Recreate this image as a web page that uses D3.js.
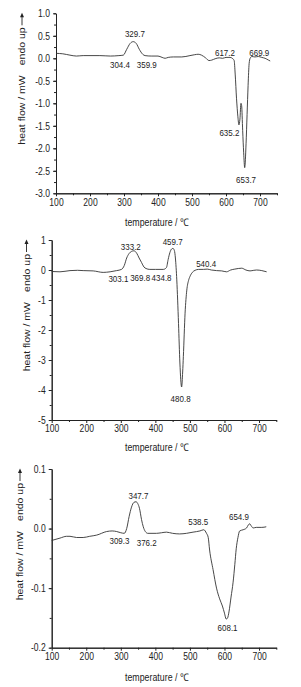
<!DOCTYPE html>
<html><head><meta charset="utf-8">
<script src="https://cdn.jsdelivr.net/npm/d3@7/dist/d3.min.js"></script>
<style>
html,body{margin:0;padding:0;background:#fff;}
svg{display:block;}
</style></head>
<body><svg id="c" width="301" height="687"></svg>
<script>
// ---------- data ----------
const xTicks = [100,200,300,400,500,600,700];
const xTickLabels = ["100","200","300","400","500","600","700"];

const p1T = [100,120,141,160,180,200,229,260,285,298,308,318,327,336,345,355,362,380,400,412,421,430,445,470,494,508,518,528,540,550,558,568,580,590,600,612,620,624,627,631,635,638,641,644,646,649,652,655,659,662,665,668,671,676,685,695,705,715,725,730];
const p1V = [0.11,0.10,0.07,0.05,0.06,0.06,0.06,0.05,0.06,0.07,0.20,0.33,0.37,0.33,0.20,0.09,0.06,0.05,0.05,0.02,0.0,0.02,0.03,0.03,0.06,0.08,0.09,0.07,0.01,-0.05,-0.04,-0.01,0.01,0.0,0.02,0.02,-0.01,-0.05,-0.35,-0.9,-1.3,-1.48,-1.35,-1.0,-1.05,-1.6,-2.1,-2.43,-1.9,-1.25,-0.6,-0.12,0.0,0.04,0.03,0.04,0.02,0.0,-0.04,-0.06];
const p1YTicks = [1.0,0.5,0.0,-0.5,-1.0,-1.5,-2.0,-2.5,-3.0];
const p1YLabels = ["1.0","0.5","0.0","-0.5","-1.0","-1.5","-2.0","-2.5","-3.0"];
const p1AnnText = ["329.7","304.4","359.9","617.2","669.9","635.2","653.7"];
const p1AnnT = [332,288,367,597,698,610,659];
const p1AnnV = [0.54,-0.14,-0.14,0.13,0.13,-1.65,-2.70];

const p2T = [100,124,153,175,191,220,249,269,288,302,310,317,324,331,338,346,353,360,367,373,384,400,423,432,437,442,447,451,455,458,462,467,471,476,479,481,486,491,496,500,507,515,525,539,550,562,577,592,606,618,630,650,662,674,685,693,708,722];
const p2V = [-0.05,-0.06,-0.02,-0.01,-0.02,-0.03,-0.08,-0.06,-0.02,0.02,0.15,0.40,0.55,0.62,0.64,0.56,0.40,0.25,0.10,0.05,0.02,0.02,0.02,0.08,0.35,0.58,0.70,0.72,0.65,0.40,-0.33,-1.78,-3.1,-3.9,-3.4,-2.89,-1.44,-0.67,-0.35,-0.22,-0.08,-0.01,0.02,0.02,0.03,0.0,-0.02,-0.03,-0.06,0.0,0.03,0.06,0.0,-0.03,-0.01,0.0,-0.02,-0.06];
const p2YTicks = [1,0,-1,-2,-3,-4,-5];
const p2YLabels = ["1","0","-1","-2","-3","-4","-5"];
const p2AnnText = ["333.2","459.7","303.1","369.8","434.8","540.4","480.8"];
const p2AnnT = [329,450,293,356,418,547,473];
const p2AnnV = [0.78,0.94,-0.28,-0.26,-0.26,0.22,-4.28];

const p3T = [100,124,143,153,172,191,210,230,259,275,288,300,310,317,324,331,338,344,349,354,360,365,371,378,403,418,432,450,470,490,509,529,540,548,553,557,567,577,586,594,600,605,609,613,619,625,630,634,639,644,654,664,669,673,678,683,692,708,721];
const p3V = [-0.020,-0.016,-0.013,-0.013,-0.015,-0.015,-0.013,-0.011,-0.005,-0.004,-0.005,-0.007,-0.008,0.000,0.020,0.036,0.044,0.045,0.042,0.034,0.015,0.003,-0.005,-0.008,-0.008,-0.007,-0.006,-0.008,-0.009,-0.008,-0.006,-0.004,-0.002,-0.008,-0.015,-0.036,-0.069,-0.100,-0.118,-0.130,-0.142,-0.152,-0.150,-0.140,-0.115,-0.090,-0.060,-0.034,-0.015,-0.004,-0.002,0.001,0.006,0.008,0.004,0.001,0.002,0.002,0.003];
const p3YTicks = [0.1,0.0,-0.1,-0.2];
const p3YLabels = ["0.1","0.0","-0.1","-0.2"];
const p3AnnText = ["347.7","309.3","376.2","538.5","654.9","608.1"];
const p3AnnT = [351,296,375,524,642,609];
const p3AnnV = [0.055,-0.020,-0.023,0.012,0.020,-0.166];

const xTitle = "temperature / \u2103";
const yTitleMain = "heat flow / mW";
const yTitleDir = "endo up";

// ---------- drawing ----------
const svg = d3.select("#c");
const FONT = "'Liberation Sans',Arial,sans-serif";
const FA = 9.5;     // annotation size
const FK = 10.2;    // tick label size
const FT = 10.5;    // titles
const SX = 0.84;    // horizontal squeeze of the original figure
const INK = "#222";

function txt(g, x, y, s, anchor, fs){
  return g.append("text")
    .attr("transform", `translate(${x},${y}) scale(${SX},1)`)
    .attr("text-anchor", anchor||"middle")
    .attr("dy","0.35em")
    .attr("font-family", FONT).attr("font-size", fs||FA).attr("fill", INK)
    .text(s);
}
function vtxt(g, x, y, s, anchor, fs){
  return g.append("text")
    .attr("transform", `translate(${x},${y}) rotate(-90) scale(1,${SX})`)
    .attr("text-anchor", anchor||"end")
    .attr("dy","0.35em")
    .attr("font-family", FONT).attr("font-size", fs||FT).attr("fill", INK)
    .text(s);
}

const panels = [
  {T:p1T,V:p1V,yd:[-3,1],yt:p1YTicks,yl:p1YLabels,ym:d3.range(-3,1.001,0.25),xr:[56,277],yr:[193.3,13.3],at:p1AnnText,aT:p1AnnT,aV:p1AnnV,tx:22,xtY:222},
  {T:p2T,V:p2V,yd:[-5,1],yt:p2YTicks,yl:p2YLabels,ym:d3.range(-5,1.001,0.5),xr:[51.7,276.3],yr:[420,240],at:p2AnnText,aT:p2AnnT,aV:p2AnnV,tx:26.5,xtY:447},
  {T:p3T,V:p3V,yd:[-0.2,0.1],yt:p3YTicks,yl:p3YLabels,ym:d3.range(-0.2,0.1001,0.05),xr:[51.7,276.3],yr:[647.7,469],at:p3AnnText,aT:p3AnnT,aV:p3AnnV,tx:20,xtY:677}
];

panels.forEach(p=>{
  const g = svg.append("g");
  const x = d3.scaleLinear().domain([100,750]).range(p.xr);
  const y = d3.scaleLinear().domain(p.yd).range(p.yr);
  // axes
  const xa = g.append("g").attr("transform",`translate(0,${p.yr[0]})`)
    .call(d3.axisBottom(x).tickValues(xTicks).tickSizeInner(3).tickSizeOuter(0).tickPadding(2).tickFormat((d,i)=>xTickLabels[i]));
  g.append("g").attr("transform",`translate(0,${p.yr[0]})`)
    .call(d3.axisBottom(x).tickValues(d3.range(150,751,100)).tickSizeInner(2).tickSizeOuter(0).tickFormat(""));
  const ya = g.append("g").attr("transform",`translate(${p.xr[0]},0)`)
    .call(d3.axisLeft(y).tickValues(p.yt).tickSizeInner(3).tickSizeOuter(0).tickPadding(3).tickFormat((d,i)=>p.yl[i]));
  g.append("g").attr("transform",`translate(${p.xr[0]},0)`)
    .call(d3.axisLeft(y).tickValues(p.ym).tickSizeInner(2).tickSizeOuter(0).tickFormat(""));
  g.selectAll(".domain").attr("stroke",INK).attr("stroke-width",1);
  g.selectAll(".tick line").attr("stroke",INK);
  g.selectAll(".tick text").attr("font-family",FONT).attr("font-size",FK).attr("fill",INK);
  xa.selectAll(".tick text").attr("transform",`scale(${SX},1)`).attr("x",0);
  ya.selectAll(".tick text").each(function(){
    const t=d3.select(this); const xx=+t.attr("x");
    t.attr("x",xx/SX).attr("transform",`scale(${SX},1)`);
  });
  // curve
  const line = d3.line().x((d,i)=>x(p.T[i])).y((d,i)=>y(p.V[i])).curve(d3.curveMonotoneX);
  g.append("path").datum(p.V).attr("d",line).attr("fill","none").attr("stroke","#333").attr("stroke-width",0.9);
  // annotations
  p.at.forEach((s,i)=>txt(g, x(p.aT[i]), y(p.aV[i]), s, "middle"));
  // x title
  txt(g, 157, p.xtY, xTitle, "middle", FT);
  // y title (top-anchored) with arrow
  const top = p.yr[1];
  vtxt(g, p.tx, top+14, yTitleDir, "end", FT);
  vtxt(g, p.tx, top+62, yTitleMain, "end", FT);
  const ag = g.append("g").attr("transform",`translate(${p.tx},0)`);
  ag.append("line").attr("x1",0).attr("x2",0).attr("y1",top+12).attr("y2",top+2).attr("stroke",INK).attr("stroke-width",0.9);
  ag.append("path").attr("d",`M0,${top-0.5} L-2,${top+4} L2,${top+4} Z`).attr("fill",INK);
});
</script>
</body></html>
